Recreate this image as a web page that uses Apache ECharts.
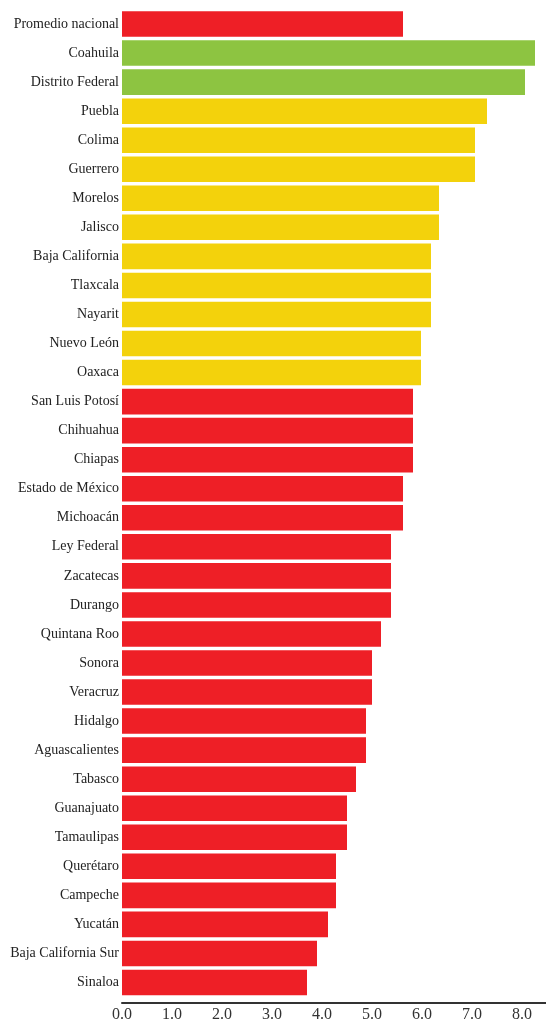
<!DOCTYPE html>
<html><head><meta charset="utf-8">
<script src="https://cdn.jsdelivr.net/npm/echarts@6/dist/echarts.min.js"></script>
<style>html,body{margin:0;padding:0;background:#fff}#c{width:546px;height:1024px}</style>
</head><body><div id="c"></div>
<script>
const categories = ["Promedio nacional","Coahuila","Distrito Federal","Puebla","Colima","Guerrero","Morelos","Jalisco","Baja California","Tlaxcala","Nayarit","Nuevo León","Oaxaca","San Luis Potosí","Chihuahua","Chiapas","Estado de México","Michoacán","Ley Federal","Zacatecas","Durango","Quintana Roo","Sonora","Veracruz","Hidalgo","Aguascalientes","Tabasco","Guanajuato","Tamaulipas","Querétaro","Campeche","Yucatán","Baja California Sur","Sinaloa"];
const values = [5.62,8.26,8.06,7.3,7.06,7.06,6.34,6.34,6.18,6.18,6.18,5.98,5.98,5.82,5.82,5.82,5.62,5.62,5.38,5.38,5.38,5.18,5.0,5.0,4.88,4.88,4.68,4.5,4.5,4.28,4.28,4.12,3.9,3.7];
const groups = ["avg","green","green","yellow","yellow","yellow","yellow","yellow","yellow","yellow","yellow","yellow","yellow","red","red","red","red","red","red","red","red","red","red","red","red","red","red","red","red","red","red","red","red","red"];
const palette = {avg:"#EE1F26", green:"#8DC441", yellow:"#F3D20C", red:"#EE1F26"};
const xTicks = [0,1,2,3,4,5,6,7,8];

const chart = echarts.init(document.getElementById('c'), null, {renderer:'canvas'});
chart.setOption({
  animation:false,
  grid:{left:122,right:0,top:9.5,bottom:27,containLabel:false},
  xAxis:{type:'value',min:0,max:8.48,interval:1,offset:6,
    axisLine:{show:true,lineStyle:{color:'#333',width:2}},
    axisTick:{show:false},splitLine:{show:false},
    axisLabel:{showMaxLabel:false,margin:4,color:'#333',fontFamily:'Liberation Serif',fontSize:16,
      formatter:v=>xTicks.includes(v)?v.toFixed(1):''}},
  yAxis:{type:'category',inverse:true,data:categories,
    axisLine:{show:false},axisTick:{show:false},
    axisLabel:{margin:3,color:'#222',fontFamily:'Liberation Serif',fontSize:14}},
  series:[{type:'bar',barCategoryGap:'12%',
    data:values.map((v,i)=>({value:v,itemStyle:{color:palette[groups[i]]}}))}]
});
</script></body></html>
